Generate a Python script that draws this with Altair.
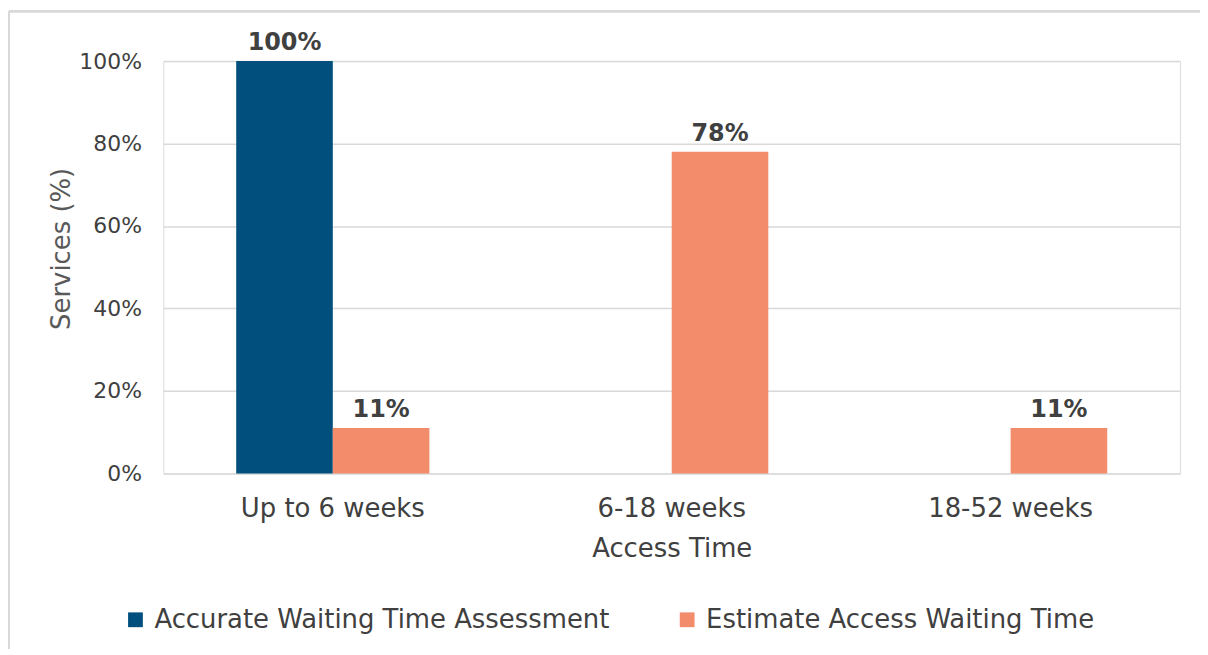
import altair as alt
import pandas as pd

categories = ["Up to 6 weeks", "6-18 weeks", "18-52 weeks"]
series = ["Accurate Waiting Time Assessment", "Estimate Access Waiting Time"]
accurate = [1.00, 0.0, 0.0]
estimate = [0.11, 0.78, 0.11]
colors = ["#004F7C", "#F28C6B"]

rows = []
for i, c in enumerate(categories):
    rows.append({"cat": c, "series": series[0], "value": accurate[i]})
    rows.append({"cat": c, "series": series[1], "value": estimate[i]})
df = pd.DataFrame(rows)

FONT = "DejaVu Sans"
TXT = "#404040"
BIG = 26

x_enc = alt.X("cat:N", sort=categories,
              scale=alt.Scale(paddingInner=0.43, paddingOuter=0.215),
              axis=alt.Axis(title="Access Time", labelAngle=0, ticks=False, domain=False,
                            labelFontSize=BIG, labelColor=TXT, labelFont=FONT, labelPadding=22,
                            labelLimit=400,
                            titleFontSize=BIG, titleColor=TXT, titleFont=FONT, titleFontWeight="normal",
                            titleY=75, titleBaseline="middle"))
xo_enc = alt.XOffset("series:N", sort=series, scale=alt.Scale(paddingInner=0, paddingOuter=0))

bars = alt.Chart(df).mark_bar().encode(
    x=x_enc,
    xOffset=xo_enc,
    y=alt.Y("value:Q", scale=alt.Scale(domain=[0, 1]),
            axis=alt.Axis(title="Services (%)", values=[0, 0.2, 0.4, 0.6, 0.8, 1.0], format=".0%",
                          ticks=False, domain=False, gridColor="#D9D9D9", gridWidth=1.5,
                          labelFontSize=22, labelColor=TXT, labelFont=FONT, labelPadding=22,
                          titleFontSize=BIG, titleColor="#595959", titleFont=FONT, titleFontWeight="normal",
                          titleAngle=-90, titleX=-102, titleY=188, titleAlign="center",
                          titleBaseline="middle")),
    color=alt.Color("series:N", sort=series, scale=alt.Scale(domain=series, range=colors),
                    legend=alt.Legend(title=None, orient="none", direction="horizontal",
                                      legendX=-41, legendY=548, symbolType="square",
                                      symbolSize=220, symbolStrokeWidth=0, symbolOpacity=1,
                                      labelFontSize=BIG, labelColor=TXT, labelFont=FONT,
                                      labelOffset=6, columnPadding=64, labelLimit=700)),
)

labels = alt.Chart(df).transform_filter(alt.datum.value > 0).mark_text(
    baseline="bottom", dy=-6, fontSize=24, fontWeight="bold", color=TXT, font=FONT
).encode(
    x=alt.X("cat:N", sort=categories),
    xOffset=alt.XOffset("series:N", sort=series),
    y=alt.Y("value:Q"),
    text=alt.Text("value:Q", format=".0%"),
)

border_left = alt.Chart(df).mark_rule(color="#D9D9D9", strokeWidth=2).encode(
    x=alt.value(-155), y=alt.value(-50), y2=alt.value(700))
border_top = alt.Chart(df).mark_rule(color="#D9D9D9", strokeWidth=2).encode(
    x=alt.value(-155), x2=alt.value(1100), y=alt.value(-50))

chart = alt.layer(border_left, border_top, bars, labels).properties(
    width=1021, height=414,
    autosize=alt.AutoSizeParams(type="none"),
    padding={"left": 156, "top": 52, "right": 20, "bottom": 175},
).configure_view(stroke=None).configure(font=FONT)

chart.save("out.html", embed_options={"renderer": "svg", "actions": False})
